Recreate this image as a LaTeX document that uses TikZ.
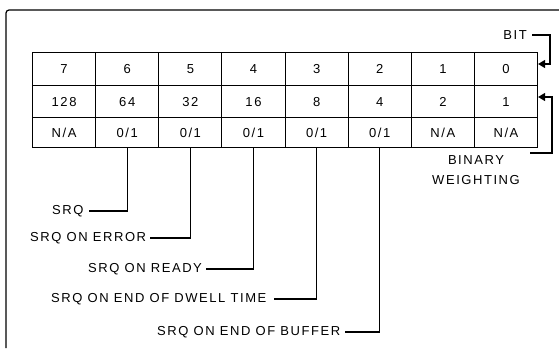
\documentclass[tikz,border=0pt]{standalone}
\usepackage{fontspec}
\setmainfont{Liberation Sans}[LetterSpace=12]
\usetikzlibrary{arrows.meta}
\begin{document}
\begin{tikzpicture}[x=1pt,y=-1pt,
  cell/.style={draw,line width=1.1pt,inner sep=0pt,anchor=north west,minimum width=63.125pt,font=\fontsize{13}{13}\selectfont},
  lbl/.style={inner sep=0pt,anchor=west,font=\fontsize{13}{13}\selectfont},
  conn/.style={line width=1.3pt},
  arr/.style={line width=1.3pt,-{Triangle[length=7pt,width=8pt]}}]
\useasboundingbox (0,0) rectangle (559,348);
% frame
\draw[line width=1.2pt,rounded corners=3pt] (6,348) -- (6,10) -- (559,10);
% table
\foreach \t [count=\i from 0] in {7,6,5,4,3,2,1,0}{
  \node[cell,minimum height=33pt] (c\t r1) at (32+\i*63.125,52) {\t};
}
\foreach \t/\b [count=\i from 0] in {128/7,64/6,32/5,16/4,8/3,4/2,2/1,1/0}{
  \node[cell,minimum height=32pt] (c\b r2) at (32+\i*63.125,85) {\t};
}
\node[cell,minimum height=30pt] (c7r3) at (32+0*63.125,117) {N/A};
\node[cell,minimum height=30pt] (c6r3) at (32+1*63.125,117) {0/1};
\node[cell,minimum height=30pt] (c5r3) at (32+2*63.125,117) {0/1};
\node[cell,minimum height=30pt] (c4r3) at (32+3*63.125,117) {0/1};
\node[cell,minimum height=30pt] (c3r3) at (32+4*63.125,117) {0/1};
\node[cell,minimum height=30pt] (c2r3) at (32+5*63.125,117) {0/1};
\node[cell,minimum height=30pt] (c1r3) at (32+6*63.125,117) {N/A};
\node[cell,minimum height=30pt] (c0r3) at (32+7*63.125,117) {N/A};
% labels
\node[lbl] (l1) at (52,211) {SRQ};
\node[lbl] (l2) at (30,238) {SRQ ON ERROR};
\node[lbl] (l3) at (88,269) {SRQ ON READY};
\node[lbl] (l4) at (51,299) {SRQ ON END OF DWELL TIME};
\node[lbl] (l5) at (157,332) {SRQ ON END OF BUFFER};
\draw[conn] (c6r3.south) |- ([xshift=5pt]l1.east);
\draw[conn] (c5r3.south) |- ([xshift=4pt]l2.east);
\draw[conn] (c4r3.south) |- ([xshift=4pt]l3.east);
\draw[conn] (c3r3.south) |- ([xshift=7pt]l4.east);
\draw[conn] (c2r3.south) |- ([xshift=5pt]l5.east);
% BIT
\node[lbl,anchor=east] (bit) at (527,35) {BIT};
\coordinate (bitc) at (550,64);
\draw[arr] ([xshift=5pt]bit.east) -| (bitc) -- (bitc -| c0r1.east);
% binary weighting
\node[inner sep=0pt,align=center,font=\fontsize{13}{20}\selectfont] (bw) at (476,170) {BINARY\\WEIGHTING};
\coordinate (binc) at (552,97);
\coordinate (binh) at (530,153);
\draw[arr] (binh) -| (binc) -- (binc -| c0r2.east);
\end{tikzpicture}
\end{document}
